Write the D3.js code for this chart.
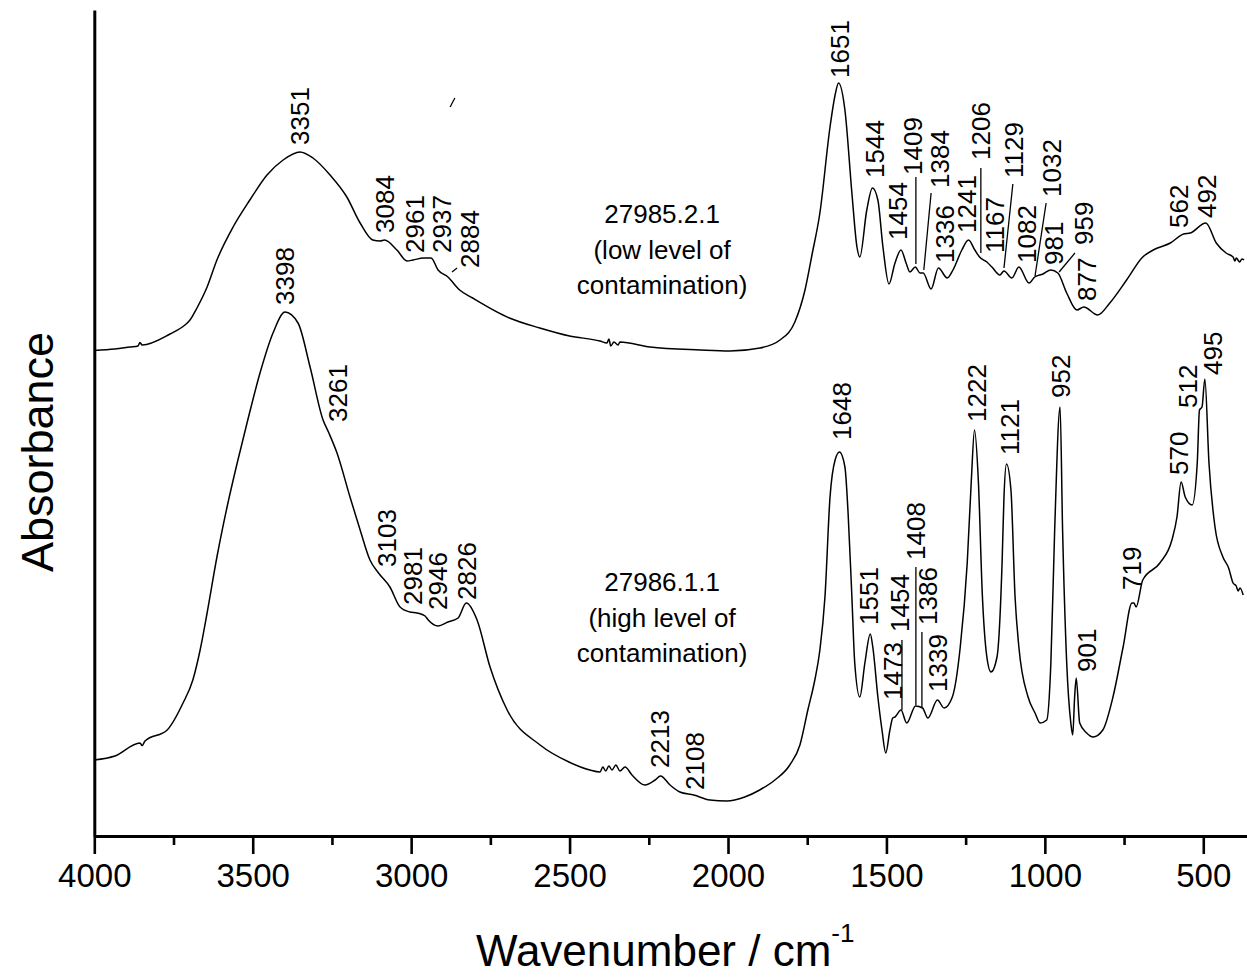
<!DOCTYPE html>
<html>
<head>
<meta charset="utf-8">
<script src="https://cdn.jsdelivr.net/npm/d3@7"></script>
<style>
  html, body { margin: 0; padding: 0; background: #fff; }
  svg { display: block; font-family: Arial, "Liberation Sans", sans-serif; }
</style>
</head>
<body>
<svg id="chart" width="1247" height="979"></svg>
<script>
// FTIR spectra: [wavenumber (cm-1), absorbance (offset, a.u.)]
const spectrumLow = [
  [4000,0.971],[3935,0.974],[3887,0.978],[3862,0.980],[3856,0.987],[3849,0.982],
  [3761,1.004],[3714,1.022],[3698,1.032],[3676,1.056],[3644,1.098],
  [3613,1.152],[3562,1.218],[3509,1.272],[3455,1.322],[3404,1.352],[3351,1.368],
  [3310,1.356],[3256,1.322],[3203,1.278],[3161,1.226],[3121,1.192],[3098,1.190],
  [3084,1.192],[3045,1.172],[3013,1.150],[2994,1.152],[2961,1.156],[2937,1.156],
  [2915,1.132],[2884,1.118],[2847,1.092],[2806,1.076],[2690,1.036],[2594,1.016],
  [2500,1.000],[2404,0.990],[2382,0.986],[2376,0.994],[2370,0.980],[2360,0.988],
  [2347,0.982],[2341,0.988],[2246,0.978],[2088,0.972],[1994,0.970],[1899,0.976],
  [1836,0.992],[1789,1.028],[1757,1.092],[1735,1.162],[1710,1.246],[1678,1.418],
  [1662,1.482],[1651,1.506],[1631,1.452],[1609,1.286],[1593,1.178],[1584,1.158],
  [1562,1.252],[1544,1.296],[1527,1.272],[1511,1.178],[1492,1.104],[1473,1.146],
  [1454,1.172],[1438,1.146],[1426,1.128],[1409,1.138],[1394,1.126],[1384,1.126],
  [1359,1.094],[1336,1.136],[1308,1.116],[1290,1.132],[1262,1.172],[1241,1.192],
  [1221,1.172],[1206,1.158],[1183,1.148],[1167,1.138],[1142,1.122],[1129,1.130],
  [1104,1.116],[1082,1.138],[1050,1.106],[1032,1.118],[1006,1.124],[981,1.132],
  [959,1.126],[931,1.086],[899,1.052],[877,1.058],[833,1.042],[795,1.066],
  [742,1.112],[691,1.158],[658,1.172],[604,1.186],[562,1.204],
  [541,1.206],[492,1.226],[459,1.186],[428,1.166],[406,1.158],[400,1.150],
  [396,1.156],[385,1.148],[378,1.154],[371,1.152]
];

const spectrumHigh = [
  [4000,0.152],[3935,0.160],[3856,0.186],[3849,0.181],[3840,0.190],[3770,0.212],
  [3720,0.266],[3689,0.312],[3666,0.372],[3644,0.446],[3613,0.558],[3581,0.658],
  [3549,0.746],[3518,0.826],[3477,0.926],[3436,1.006],[3398,1.048],[3357,1.026],
  [3319,0.938],[3278,0.832],[3261,0.808],[3234,0.766],[3193,0.678],[3161,0.612],
  [3130,0.552],[3103,0.526],[3067,0.498],[3035,0.458],[3004,0.448],[2981,0.446],
  [2956,0.440],[2946,0.432],[2915,0.420],[2884,0.428],[2852,0.436],[2826,0.466],
  [2792,0.432],[2751,0.338],[2697,0.252],[2593,0.182],[2502,0.148],[2436,0.132],
  [2404,0.128],[2395,0.138],[2386,0.130],[2376,0.140],[2366,0.132],[2354,0.142],
  [2341,0.130],[2325,0.138],[2303,0.122],[2262,0.102],[2230,0.112],[2213,0.120],
  [2183,0.102],[2152,0.088],[2108,0.082],[2057,0.072],[2004,0.070],[1947,0.078],
  [1900,0.092],[1852,0.112],[1805,0.142],[1773,0.182],[1748,0.252],[1726,0.312],
  [1710,0.372],[1694,0.478],[1678,0.678],[1662,0.752],[1648,0.768],[1631,0.738],
  [1621,0.646],[1609,0.478],[1600,0.346],[1584,0.278],[1568,0.346],[1551,0.404],
  [1543,0.378],[1527,0.278],[1514,0.212],[1502,0.166],[1489,0.212],[1480,0.236],
  [1473,0.238],[1454,0.252],[1436,0.226],[1408,0.260],[1386,0.256],[1369,0.236],
  [1339,0.272],[1318,0.256],[1292,0.278],[1267,0.378],[1245,0.546],[1232,0.712],
  [1222,0.812],[1210,0.712],[1197,0.478],[1183,0.358],[1170,0.328],[1151,0.358],
  [1135,0.546],[1129,0.678],[1121,0.744],[1107,0.692],[1094,0.478],[1082,0.378],
  [1053,0.278],[1031,0.246],[1015,0.226],[994,0.232],[981,0.346],[969,0.612],
  [952,0.858],[944,0.612],[931,0.346],[918,0.226],[912,0.202],[906,0.278],
  [901,0.316],[890,0.226],[868,0.206],[848,0.198],[817,0.212],[785,0.278],
  [753,0.378],[725,0.466],[719,0.466],[712,0.458],[691,0.512],[637,0.546],
  [599,0.592],[583,0.638],[570,0.708],[557,0.678],[535,0.662],[519,0.746],
  [512,0.852],[504,0.858],[495,0.914],[482,0.746],[463,0.618],[438,0.558],
  [420,0.536],[406,0.506],[396,0.500],[390,0.490],[384,0.496],[374,0.482]
];

// Peak labels: [text, label centre (cm-1), label foot (a.u.)]
const peakLabelsLow = [
  ["3351",3351,1.382],["3084",3083,1.206],["2961",2988,1.166],["2937",2903,1.166],
  ["2884",2814,1.136],["1651",1647,1.516],["1544",1536,1.316],["1454",1464,1.192],
  ["1409",1416,1.322],["1384",1331,1.296],["1336",1315,1.146],["1241",1246,1.206],
  ["1206",1202,1.352],["1167",1157,1.166],["1129",1097,1.316],["1082",1056,1.146],
  ["1032",978,1.278],["981",971,1.142],["959",877,1.182],["877",867,1.070],
  ["562",577,1.216],["492",491,1.236]
];

const peakLabelsHigh = [
  ["3398",3398,1.062],["3261",3231,0.828],["3103",3076,0.538],["2981",2994,0.462],
  ["2946",2915,0.452],["2826",2824,0.472],["2213",2215,0.136],["2108",2104,0.092],
  ["1648",1640,0.792],["1551",1555,0.422],["1473",1482,0.272],["1454",1457,0.408],
  ["1408",1407,0.552],["1386",1369,0.422],["1339",1337,0.288],["1222",1214,0.828],
  ["1121",1110,0.762],["952",949,0.876],["901",867,0.328],["719",725,0.492],
  ["570",577,0.722],["512",548,0.856],["495",469,0.922]
];

// Leader lines joining offset labels to their bands: [wn1, a1, wn2, a2]
const leaderLines = [
  [1407,1.318,1407,1.144],[1359,1.286,1382,1.132],[1202,1.336,1202,1.166],
  [1101,1.304,1129,1.136],[996,1.266,1031,1.120],[905,1.166,955,1.128],
  [2855,1.136,2871,1.128],[2877,1.458,2862,1.476],
  [1451,0.392,1451,0.252],[1407,0.538,1407,0.262],[1388,0.408,1388,0.258]
];

// Sample captions: [lines, centre (cm-1), first baseline (a.u.)]
const sampleCaptions = [
  [["27985.2.1","(low level of","contamination)"],2208,1.226],
  [["27986.1.1","(high level of","contamination)"],2208,0.490]
];

const majorTicks = [4000,3500,3000,2500,2000,1500,1000,500];
const minorTicks = [3750,3250,2750,2250,1750,1250,750];

const svg = d3.select("#chart");

const x = d3.scaleLinear().domain([4000, 362]).range([94.3, 1247]);
const y = d3.scaleLinear().domain([0, 1.652]).range([836, 10]);

// spectra
const line = d3.line()
  .x(d => x(d[0]))
  .y(d => y(d[1]))
  .curve(d3.curveMonotoneX);

[spectrumLow, spectrumHigh].forEach(s => {
  svg.append("path")
    .datum(s)
    .attr("d", line)
    .attr("fill", "none")
    .attr("stroke", "#000")
    .attr("stroke-width", 1.5)
    .attr("stroke-linejoin", "round");
});

// leader lines
svg.append("g").selectAll("line")
  .data(leaderLines)
  .join("line")
  .attr("x1", d => x(d[0])).attr("y1", d => y(d[1]))
  .attr("x2", d => x(d[2])).attr("y2", d => y(d[3]))
  .attr("stroke", "#000").attr("stroke-width", 1.3);

// rotated peak labels
const labelG = svg.append("g")
  .attr("font-size", 26)
  .attr("fill", "#000");
labelG.selectAll("text")
  .data(peakLabelsLow.concat(peakLabelsHigh))
  .join("text")
  .attr("transform", d => `translate(${x(d[1])},${y(d[2])}) rotate(-90)`)
  .attr("dy", "0.36em")
  .attr("text-anchor", "start")
  .text(d => d[0]);

// sample captions
sampleCaptions.forEach(c => {
  const t = svg.append("text")
    .attr("text-anchor", "middle")
    .attr("font-size", 26)
    .attr("x", x(c[1]))
    .attr("y", y(c[2]));
  c[0].forEach((s, i) => {
    t.append("tspan")
      .attr("x", x(c[1]))
      .attr("dy", i === 0 ? 0 : 35.5)
      .text(s);
  });
});

// x axis
const xAxisG = svg.append("g").attr("transform", `translate(0,${y(0)})`);
xAxisG.call(d3.axisBottom(x).tickValues(majorTicks).tickFormat(d3.format("d"))
  .tickSize(18).tickSizeOuter(0).tickPadding(10));
xAxisG.select(".domain").attr("stroke-width", 3);
xAxisG.selectAll(".tick line").attr("stroke-width", 2.6);
xAxisG.selectAll(".tick text")
  .attr("font-size", 33)
  .attr("font-family", "Arial, 'Liberation Sans', sans-serif")
  .attr("fill", "#000");

const xMinorG = svg.append("g").attr("transform", `translate(0,${y(0)})`);
xMinorG.call(d3.axisBottom(x).tickValues(minorTicks).tickSize(9).tickSizeOuter(0).tickFormat(""));
xMinorG.select(".domain").remove();
xMinorG.selectAll(".tick line").attr("stroke-width", 2.6);

// y axis (no ticks)
const yAxisG = svg.append("g").attr("transform", `translate(${x(4000)},0)`);
yAxisG.call(d3.axisLeft(y).tickValues([]).tickSizeOuter(0));
yAxisG.select(".domain").attr("stroke-width", 3);

// axis titles
const xTitle = svg.append("text")
  .attr("x", 476)
  .attr("y", 966)
  .attr("font-size", 44)
  .attr("text-anchor", "start");
xTitle.append("tspan").text("Wavenumber / cm");
xTitle.append("tspan").attr("font-size", 26).attr("dy", -24).text("-1");

svg.append("text")
  .attr("transform", "translate(53,452) rotate(-90)")
  .attr("text-anchor", "middle")
  .attr("font-size", 45)
  .text("Absorbance");
</script>
</body>
</html>
